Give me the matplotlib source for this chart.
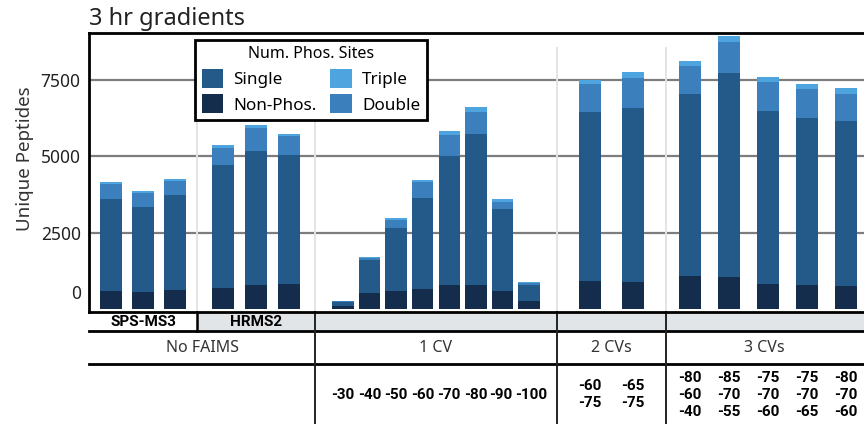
import numpy as np
import matplotlib.pyplot as plt
from matplotlib.patches import Rectangle
from matplotlib.transforms import blended_transform_factory, ScaledTranslation

# ----------- Data -----------
# bar groups, left to right
groups = ['SPS-MS3', 'HRMS2', '1 CV', '2 CVs', '3 CVs']
group_sizes = [3, 3, 8, 2, 5]

non_phos = [590, 555, 610, 695, 800, 810,
            100, 535, 590, 650, 780, 780, 590, 270,
            905, 885,
            1070, 1035, 825, 770, 750]
single = [3020, 2800, 3120, 4015, 4385, 4245,
          120, 1070, 2060, 2995, 4220, 4935, 2670, 530,
          5560, 5705,
          5980, 6680, 5670, 5480, 5395]
double = [475, 440, 460, 570, 735, 600,
          25, 55, 265, 515, 695, 750, 255, 45,
          905, 960,
          910, 1045, 950, 960, 910]
triple = [80, 75, 65, 75, 105, 85,
          5, 50, 75, 75, 140, 150, 75, 30,
          130, 225,
          160, 190, 160, 170, 180]

row_labels = ['No FAIMS', '1 CV', '2 CVs', '3 CVs']
cv_labels = ['-30', '-40', '-50', '-60', '-70', '-80', '-90', '-100',
             '-60\n-75', '-65\n-75',
             '-80\n-60\n-40', '-85\n-70\n-55', '-75\n-70\n-60',
             '-75\n-70\n-65', '-80\n-70\n-60']
yticks = [0, 2500, 5000, 7500]

# ----------- Layout (x in axis units) -----------
bounds = [89, 197, 315, 557, 666, 870]
pitch = [32, 33, 26.6, 43, 39]

c_non = '#142d4c'
c_single = '#245a8a'
c_double = '#3b7fbd'
c_triple = '#4ea4de'

plt.rcParams['font.family'] = ['Noto Sans', 'DejaVu Sans']
narrow = ['Roboto', 'DejaVu Sans']

x = []
for g, n in enumerate(group_sizes):
    mid = (bounds[g] + bounds[g + 1]) / 2
    x += list(mid + (np.arange(n) - (n - 1) / 2) * pitch[g])
x = np.array(x)

non_phos = np.array(non_phos)
single = np.array(single)
double = np.array(double)
triple = np.array(triple)

fig = plt.figure(figsize=(8.64, 4.24), dpi=100)
ax = fig.add_axes([89 / 864, (424 - 312) / 424, (870 - 89) / 864, 279 / 424])
ax.set_xlim(bounds[0], bounds[-1])
ax.set_ylim(-100, 9040)

# grid
for v in yticks[1:]:
    ax.axhline(v, color='#7d7d7d', lw=1.6, zorder=0)
for b in [197, 315, 557, 666]:
    ax.axvline(b, ymin=0, ymax=0.946, color='#e4e4e8', lw=1.4, zorder=0)

w = 21.5
ax.bar(x, non_phos, w, color=c_non, label='Non-Phos.', zorder=2)
ax.bar(x, single, w, bottom=non_phos, color=c_single, label='Single', zorder=2)
ax.bar(x, double, w, bottom=non_phos + single, color=c_double, label='Double', zorder=2)
ax.bar(x, triple, w, bottom=non_phos + single + double, color=c_triple, label='Triple', zorder=2)

ax.set_xticks([])
ax.set_yticks(yticks)
ax.set_yticklabels([str(v) for v in yticks], fontsize=12.5, color='#222222')
ax.tick_params(axis='y', length=0, pad=6)
# the zero label sits a little above the baseline
ax.get_yticklabels()[0].set_transform(
    ax.get_yticklabels()[0].get_transform() + ScaledTranslation(0, 17 / 100, fig.dpi_scale_trans))
ax.set_ylabel('Unique Peptides', fontsize=13.5, color='#333333')
ax.yaxis.set_label_coords(-0.071, 0.55)

for s in ['top', 'left', 'bottom']:
    ax.spines[s].set_linewidth(2)
    ax.spines[s].set_color('black')
ax.spines['right'].set_visible(False)

ax.text(0, 1.008, '3 hr gradients', transform=ax.transAxes, fontsize=17,
        ha='left', va='bottom', color='#222222')

handles, labels = ax.get_legend_handles_labels()
order = [1, 0, 3, 2]
leg = ax.legend([handles[i] for i in order], [labels[i] for i in order],
                ncol=2, title='Num. Phos. Sites', fontsize=12.3, title_fontsize=11.5,
                loc='upper left', bbox_to_anchor=(0.136, 0.975), borderaxespad=0,
                frameon=True, fancybox=False, handlelength=1.25, handleheight=1.3,
                handletextpad=0.6, columnspacing=0.8, labelspacing=0.38,
                borderpad=0.38)
leg.get_frame().set_edgecolor('black')
leg.get_frame().set_linewidth(2)
leg.get_frame().set_alpha(1)
leg.set_zorder(5)

# ----------- Table under the axis -----------
tr = blended_transform_factory(ax.transData, ax.transAxes)
px = 1 / 279
r1 = -19 * px
r2 = -52 * px
r3 = -112 * px

ax.add_patch(Rectangle((197, r1), bounds[-1] - 197, -r1, transform=tr,
                       facecolor='#e2e5e8', edgecolor='none', clip_on=False, zorder=0))
for yy in [r1, r2]:
    ax.plot([bounds[0], bounds[-1]], [yy, yy], color='black', lw=2,
            transform=tr, clip_on=False)
ax.plot([197, 197], [0, r1], color='black', lw=1.8, transform=tr, clip_on=False)
for b in [315, 557, 666]:
    ax.plot([b, b], [0, r3], color='#222222', lw=1.4, transform=tr, clip_on=False)

ax.text(143, r1 / 2, 'SPS-MS3', transform=tr, ha='center', va='center',
        fontsize=11, fontweight='bold', family=narrow)
ax.text(256, r1 / 2, 'HRMS2', transform=tr, ha='center', va='center',
        fontsize=11, fontweight='bold', family=narrow)

row_x = [(bounds[0] + bounds[2]) / 2, (bounds[2] + bounds[3]) / 2,
         (bounds[3] + bounds[4]) / 2, (bounds[4] + bounds[5]) / 2 - 4]
for lx, lab in zip(row_x, row_labels):
    ax.text(lx, (r1 + r2) / 2, lab, transform=tr, ha='center', va='center',
            fontsize=11.5, color='#333333')

for i, (xi, lab) in enumerate(zip(x[6:], cv_labels)):
    # -90 and -100 sit tight against each other
    dx = {6: -2, 7: 2}.get(i, 0)
    ax.text(xi + dx, (r2 + r3) / 2 - 0.003, lab, transform=tr, ha='center', va='center',
            fontsize=11, fontweight='bold', linespacing=1.25, family=narrow)

fig.savefig('out.png', dpi=100)
